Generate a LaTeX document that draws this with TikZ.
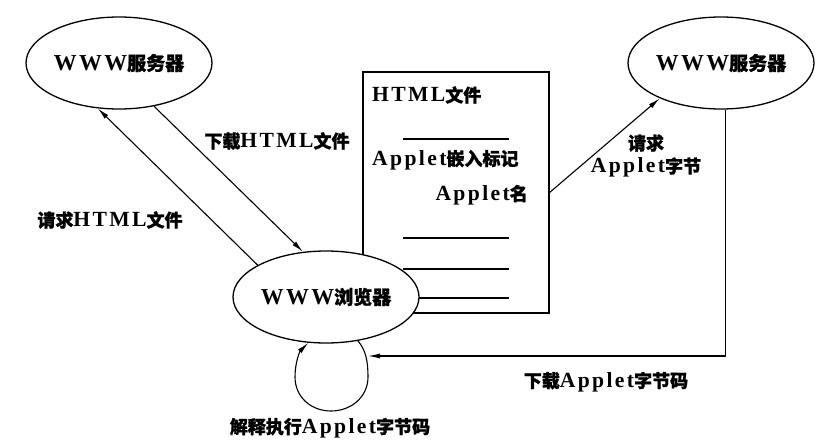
\documentclass[tikz,border=0pt]{standalone}
\usepackage{fontspec}
\setmainfont{Liberation Serif}[Scale=1.2,LetterSpace=11]
\newfontfamily\cjk{Noto Sans CJK SC}[FakeBold=1.2]
\newcommand{\zh}[1]{{\cjk #1}}
\usetikzlibrary{arrows.meta,shapes.geometric}
\begin{document}
\begin{tikzpicture}[x=1pt,y=-1pt,
  every node/.style={font=\fontsize{18}{22}\selectfont\bfseries},
  oval/.style={draw,ellipse,line width=1.3pt,fill=white,minimum width=186pt,minimum height=92pt,inner sep=0pt,font=\fontsize{19}{22}\selectfont\bfseries},
  doc/.style={draw,rectangle,line width=1.2pt,minimum width=186pt,minimum height=241pt,inner sep=0pt},
  lbl/.style={inner sep=0pt,align=center},
  arr/.style={line width=1.1pt,-{Latex[length=12pt,width=5pt]}},
  rule/.style={line width=1.3pt}]
\useasboundingbox (0,0) rectangle (832,447);
\fill[white] (0,0) rectangle (832,447);
% document box
\node[doc] (html) at (456,192.5) {};
\node[lbl,anchor=west] (t1) at (372,95) {HTML\zh{文件}};
\node[lbl,anchor=west] (t2) at (372,160) {Applet\zh{嵌入标记}};
\node[lbl,anchor=east] (t3) at (528,195) {Applet\zh{名}};
\draw[rule] (403,139) -- (509,139);
\draw[rule] (403,238) -- (509,238);
\draw[rule] (403,269) -- (509,269);
\draw[rule] (403,298) -- (509,298);
% ellipses
\node[oval] (lsrv) at (119,63) {WWW\zh{服务器}};
\node[oval] (rsrv) at (721,63) {WWW\zh{服务器}};
\node[oval] (brw) at (326,297) {WWW\zh{浏览器}};
% connectors
\draw[arr] (brw.155.8) -- (lsrv.-115);
\draw[arr] (lsrv.-51.5) -- (brw.117);
\draw[arr] (html.east) -- (rsrv.-150);
\coordinate (loopR) at (368,356);
\draw[arr] (rsrv.-84) |- (loopR);
\draw[arr] (brw.-54.5) .. controls (366,350) and (368,362) .. (368,377)
  .. controls (368,397) and (351,411) .. (331,411)
  .. controls (311,411) and (295,397) .. (295,377)
  .. controls (295,362) and (300,351) .. (brw.-111.8);
% labels
\node[lbl] (l1) at (277,141) {\zh{下载}HTML\zh{文件}};
\node[lbl] (l2) at (110,220) {\zh{请求}HTML\zh{文件}};
\node[lbl] (l3) at (646,156) {\zh{请求}\\[1pt]Applet\zh{字节}};
\node[lbl] (l4) at (606,382) {\zh{下载}Applet\zh{字节码}};
\node[lbl] (l5) at (330,428) {\zh{解释执行}Applet\zh{字节码}};
\end{tikzpicture}
\end{document}
